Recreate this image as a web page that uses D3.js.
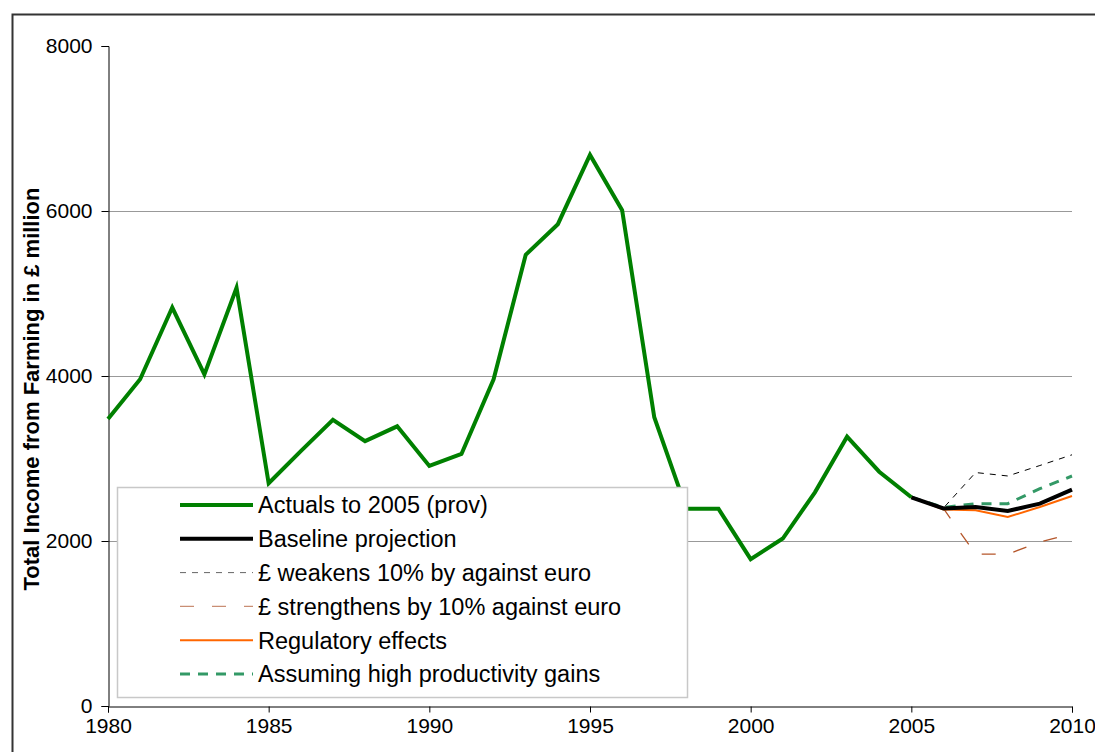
<!DOCTYPE html>
<html>
<head>
<meta charset="utf-8">
<script src="https://cdn.jsdelivr.net/npm/d3@7"></script>
<style>
    body { margin: 0; background: #fff; }
    text { font-family: "Liberation Sans", Arial, sans-serif; }
</style>
</head>
<body>
<div id="chart"></div>
<script>

// actual income, 1980 - 2005 (prov)
var actualYears = d3.range(1980, 2006);
var actualValues = [3480, 3960, 4830, 4020, 5070, 2700, 3090, 3470, 3210, 3390,
    2910, 3055, 3960, 5470, 5840, 6680, 6010, 3500, 2390, 2390,
    1780, 2030, 2590, 3265, 2840, 2530];

// projections, 2005 - 2010
var projYears = [2005, 2006, 2007, 2008, 2009, 2010];
var baselineValues = [2530, 2394, 2412, 2364, 2453, 2622];
var weakValues = [2530, 2400, 2830, 2788, 2915, 3045];
var strongValues = [2530, 2394, 1840, 1840, 1988, 2090];
var regulatoryValues = [2530, 2382, 2373, 2291, 2412, 2545];
var productivityValues = [2530, 2406, 2453, 2453, 2634, 2788];

var xTicks = [1980, 1985, 1990, 1995, 2000, 2005, 2010];
var yTicks = [0, 2000, 4000, 6000, 8000];
var gridTicks = [2000, 4000, 6000];

var legendLabels = ["Actuals to 2005 (prov)", "Baseline projection",
    "£ weakens 10% by against euro", "£ strengthens by 10% against euro",
    "Regulatory effects", "Assuming high productivity gains"];

var width = 1095, height = 752;
var margin = {top: 46, right: 23, bottom: 46, left: 108};

var svg = d3.select("#chart").append("svg")
    .attr("width", width)
    .attr("height", height);

//outer frame of the chart, runs off the right and bottom
svg.append("rect")
    .attr("x", 12.5).attr("y", 14.5)
    .attr("width", width).attr("height", height)
    .attr("fill", "none")
    .attr("stroke", "#333")
    .attr("stroke-width", 2);

var x = d3.scaleLinear().domain([1980, 2010]).range([margin.left, width - margin.right]);
var y = d3.scaleLinear().domain([0, 8000]).range([height - margin.bottom, margin.top]);

//grid lines
svg.append("g").selectAll("line")
    .data(gridTicks)
    .enter().append("line")
    .attr("x1", x(1980)).attr("x2", x(2010))
    .attr("y1", function(d){ return y(d) + 0.5; })
    .attr("y2", function(d){ return y(d) + 0.5; })
    .attr("stroke", "#999")
    .attr("stroke-width", 1);

//axes
var yAxis = d3.axisLeft(y).tickValues(yTicks).tickSize(7).tickPadding(9)
    .tickFormat(d3.format("d"));
var xAxis = d3.axisBottom(x).tickValues(xTicks).tickSize(6).tickPadding(6)
    .tickFormat(d3.format("d"));

var gy = svg.append("g")
    .attr("transform", "translate(" + (margin.left + 0.5) + ",0)")
    .call(yAxis);
var gx = svg.append("g")
    .attr("transform", "translate(0," + (height - margin.bottom + 0.5) + ")")
    .call(xAxis);

[gx, gy].forEach(function(g){
    g.select(".domain").attr("stroke", "#000");
    g.selectAll(".tick line").attr("stroke", "#000");
    g.selectAll("text").attr("fill", "#000").style("font-size", "21px");
});

//y axis title
svg.append("text")
    .attr("transform", "translate(39," + 389 + ") rotate(-90)")
    .attr("text-anchor", "middle")
    .style("font-size", "22px")
    .style("font-weight", "bold")
    .text("Total Income from Farming in £ million");

var line = d3.line()
    .x(function(d){ return x(d[0]); })
    .y(function(d){ return y(d[1]); });

function zipSeries(years, values){
    return years.map(function(yr, i){ return [yr, values[i]]; });
}

// series styles, in legend order
var series = [
    {values: zipSeries(actualYears, actualValues), color: "#008000", width: 4, dash: null},
    {values: zipSeries(projYears, baselineValues), color: "#000", width: 4, dash: null},
    {values: zipSeries(projYears, weakValues), color: "#000", width: 1, dash: "6,6", legendColor: "#666"},
    {values: zipSeries(projYears, strongValues), color: "#B5562A", width: 1.3, dash: "14,18", legendColor: "#C98E74"},
    {values: zipSeries(projYears, regulatoryValues), color: "#FF6600", width: 2, dash: null},
    {values: zipSeries(projYears, productivityValues), color: "#339966", width: 3, dash: "10,8"}
];

//draw order: thin scenarios first, baseline on top
var drawOrder = [2, 3, 5, 4, 1, 0];
drawOrder.forEach(function(i){
    var s = series[i];
    svg.append("path")
        .datum(s.values)
        .attr("fill", "none")
        .attr("stroke", s.color)
        .attr("stroke-width", s.width)
        .attr("stroke-dasharray", s.dash)
        .attr("stroke-linejoin", "miter")
        .attr("d", line);
});

//legend box
var legend = svg.append("g");
legend.append("rect")
    .attr("x", 117.5).attr("y", 487.5)
    .attr("width", 570).attr("height", 210)
    .attr("fill", "#fff")
    .attr("stroke", "#c8c8c8")
    .attr("stroke-width", 1.5);

var rows = legend.selectAll(".row")
    .data(series)
    .enter().append("g")
    .attr("transform", function(d, i){ return "translate(0," + (505 + i * 33.8) + ")"; });

rows.append("line")
    .attr("x1", 180).attr("x2", 253)
    .attr("stroke", function(d){ return d.legendColor || d.color; })
    .attr("stroke-width", function(d){ return d.width; })
    .attr("stroke-dasharray", function(d){ return d.dash; });

rows.append("text")
    .attr("x", 258)
    .attr("dy", "0.36em")
    .style("font-size", "23.5px")
    .text(function(d, i){ return legendLabels[i]; });

</script>
</body>
</html>
